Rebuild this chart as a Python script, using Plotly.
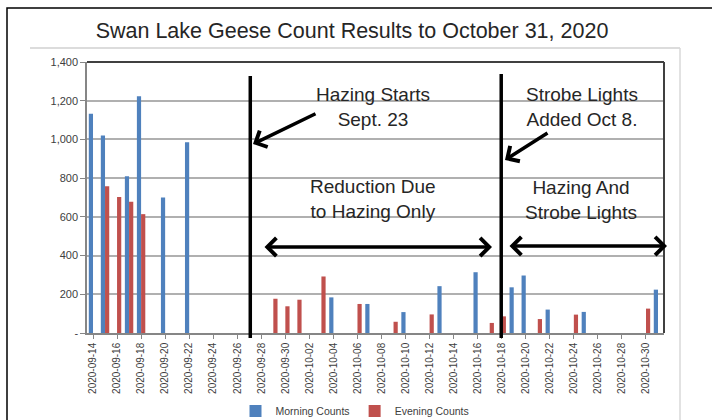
import plotly.graph_objects as go

# ---- data ----
morning_dates = ["2020-09-14", "2020-09-15", "2020-09-17", "2020-09-18", "2020-09-20", "2020-09-22",
                 "2020-10-04", "2020-10-07", "2020-10-10", "2020-10-13", "2020-10-16", "2020-10-19",
                 "2020-10-20", "2020-10-22", "2020-10-25", "2020-10-31"]
morning_counts = [1133, 1020, 810, 1223, 700, 985,
                  184, 150, 108, 242, 314, 236,
                  297, 121, 109, 224]

evening_dates = ["2020-09-15", "2020-09-16", "2020-09-17", "2020-09-18", "2020-09-29", "2020-09-30",
                 "2020-10-01", "2020-10-03", "2020-10-06", "2020-10-09", "2020-10-12", "2020-10-17",
                 "2020-10-18", "2020-10-21", "2020-10-24", "2020-10-30"]
evening_counts = [758, 703, 678, 614, 177, 138,
                  172, 292, 150, 58, 96, 52,
                  86, 72, 95, 126]

x_tick_dates = ["2020-09-14", "2020-09-16", "2020-09-18", "2020-09-20", "2020-09-22", "2020-09-24",
                "2020-09-26", "2020-09-28", "2020-09-30", "2020-10-02", "2020-10-04", "2020-10-06",
                "2020-10-08", "2020-10-10", "2020-10-12", "2020-10-14", "2020-10-16", "2020-10-18",
                "2020-10-20", "2020-10-22", "2020-10-24", "2020-10-26", "2020-10-28", "2020-10-30"]
y_tick_vals = [0, 200, 400, 600, 800, 1000, 1200, 1400]
y_tick_text = ["-", "200", "400", "600", "800", "1,000", "1,200", "1,400"]

hazing_start_line = "2020-09-27T02:00"
strobe_line = "2020-10-17T23:00"

# ---- layout geometry (pixels) ----
W, H = 712, 420
L, R, T, B = 87, 48, 62, 87
PW, PH = W - L - R, H - T - B


def px(xp):
    return (xp - L) / PW


def py(yp):
    return (H - B - yp) / PH


FONT = "Liberation Sans, Arial, sans-serif"
BLUE = "#4F81BD"
RED = "#C0504D"

fig = go.Figure()
fig.add_trace(go.Bar(x=morning_dates, y=morning_counts, name="Morning Counts",
                     marker=dict(color=BLUE, line=dict(width=0))))
fig.add_trace(go.Bar(x=evening_dates, y=evening_counts, name="Evening Counts",
                     marker=dict(color=RED, line=dict(width=0))))

shapes = [
    # outer black frame (only top and left visible)
    dict(type="rect", xref="paper", yref="paper", x0=px(7), x1=px(730), y0=py(440), y1=py(8),
         line=dict(color="black", width=1.5), layer="below"),
    # inner light frame
    dict(type="line", xref="paper", yref="paper", x0=px(30), x1=px(680), y0=py(48), y1=py(48),
         line=dict(color="#d0d0d0", width=1.5)),
    dict(type="line", xref="paper", yref="paper", x0=px(680), x1=px(680), y0=py(48), y1=py(440),
         line=dict(color="#d9d9d9", width=1.5)),
    # plot area border (top / right)
    dict(type="line", xref="paper", yref="paper", x0=0, x1=1, y0=1, y1=1,
         line=dict(color="#404040", width=2)),
    dict(type="line", xref="paper", yref="paper", x0=1, x1=1, y0=0, y1=1,
         line=dict(color="#404040", width=2)),
    # vertical event lines
    dict(type="line", xref="x", yref="paper", x0=hazing_start_line, x1=hazing_start_line,
         y0=py(338), y1=py(76), line=dict(color="black", width=3.5)),
    dict(type="line", xref="x", yref="paper", x0=strobe_line, x1=strobe_line,
         y0=py(338), y1=py(74), line=dict(color="black", width=3.5)),
]

TXT = dict(family=FONT, size=19, color="#262626")
annotations = [
    dict(text="Hazing Starts<br>Sept. 23", x=px(373), y=py(107), xref="paper", yref="paper",
         showarrow=False, font=TXT, xanchor="center", yanchor="middle"),
    dict(text="Strobe Lights<br>Added Oct 8.", x=px(582), y=py(107), xref="paper", yref="paper",
         showarrow=False, font=TXT, xanchor="center", yanchor="middle"),
    dict(text="Reduction Due<br>to Hazing Only", x=px(373), y=py(199), xref="paper", yref="paper",
         showarrow=False, font=TXT, xanchor="center", yanchor="middle"),
    dict(text="Hazing And<br>Strobe Lights", x=px(581), y=py(200), xref="paper", yref="paper",
         showarrow=False, font=TXT, xanchor="center", yanchor="middle"),
    # diagonal arrows
    dict(text="", x=px(253), y=py(144), xref="paper", yref="paper", showarrow=True,
         ax=64, ay=-31, arrowhead=4, arrowsize=1, arrowwidth=3.5, arrowcolor="black", standoff=0),
    dict(text="", x=px(505), y=py(160), xref="paper", yref="paper", showarrow=True,
         ax=44, ay=-28, arrowhead=4, arrowsize=1, arrowwidth=3.5, arrowcolor="black", standoff=0),
    # double arrows
    dict(text="", x=px(492), y=py(247), xref="paper", yref="paper", showarrow=True,
         ax=-229, ay=0, arrowhead=4, startarrowhead=4, arrowside="end+start", arrowsize=1,
         startarrowsize=1, arrowwidth=3.5, arrowcolor="black", standoff=0, startstandoff=0),
    dict(text="", x=px(667), y=py(246), xref="paper", yref="paper", showarrow=True,
         ax=-159, ay=0, arrowhead=4, startarrowhead=4, arrowside="end+start", arrowsize=1,
         startarrowsize=1, arrowwidth=3.5, arrowcolor="black", standoff=0, startstandoff=0),
]

fig.update_layout(
    width=W, height=H,
    margin=dict(l=L, r=R, t=T, b=B, autoexpand=False),
    paper_bgcolor="white", plot_bgcolor="white",
    barmode="group", bargap=0.3, bargroupgap=0,
    title=dict(text="Swan Lake Geese Count Results to October 31, 2020",
               x=352 / W, xref="container", xanchor="center",
               y=1 - 30 / H, yref="container", yanchor="middle",
               font=dict(family=FONT, size=21.5, color="#262626")),
    xaxis=dict(type="date", range=["2020-09-13T12:00", "2020-10-31T12:00"],
               tickmode="array", tickvals=x_tick_dates, tickformat="%Y-%m-%d",
               tickangle=-90, ticks="outside", ticklen=4, tickcolor="#868686",
               tickfont=dict(family=FONT, size=10, color="#404040"),
               showline=True, linecolor="#868686", linewidth=1.5,
               showgrid=False, zeroline=False),
    yaxis=dict(range=[0, 1400], tickmode="array", tickvals=y_tick_vals, ticktext=y_tick_text,
               ticks="outside", ticklen=5, tickcolor="#868686",
               tickfont=dict(family=FONT, size=11, color="#404040"),
               showline=True, linecolor="#868686", linewidth=1.5,
               showgrid=True, gridcolor="#b0b0b0", gridwidth=1.8, zeroline=False),
    showlegend=True,
    legend=dict(orientation="h", x=px(355), y=py(411), xanchor="center", yanchor="middle",
                font=dict(family=FONT, size=10.5, color="#404040"), itemwidth=30,
                tracegroupgap=0, bgcolor="rgba(0,0,0,0)"),
    shapes=shapes,
    annotations=annotations,
)

fig.write_html("out.html",
               config={"displayModeBar": False},
               post_script="document.body.style.margin='0';document.body.style.overflow='hidden';")
